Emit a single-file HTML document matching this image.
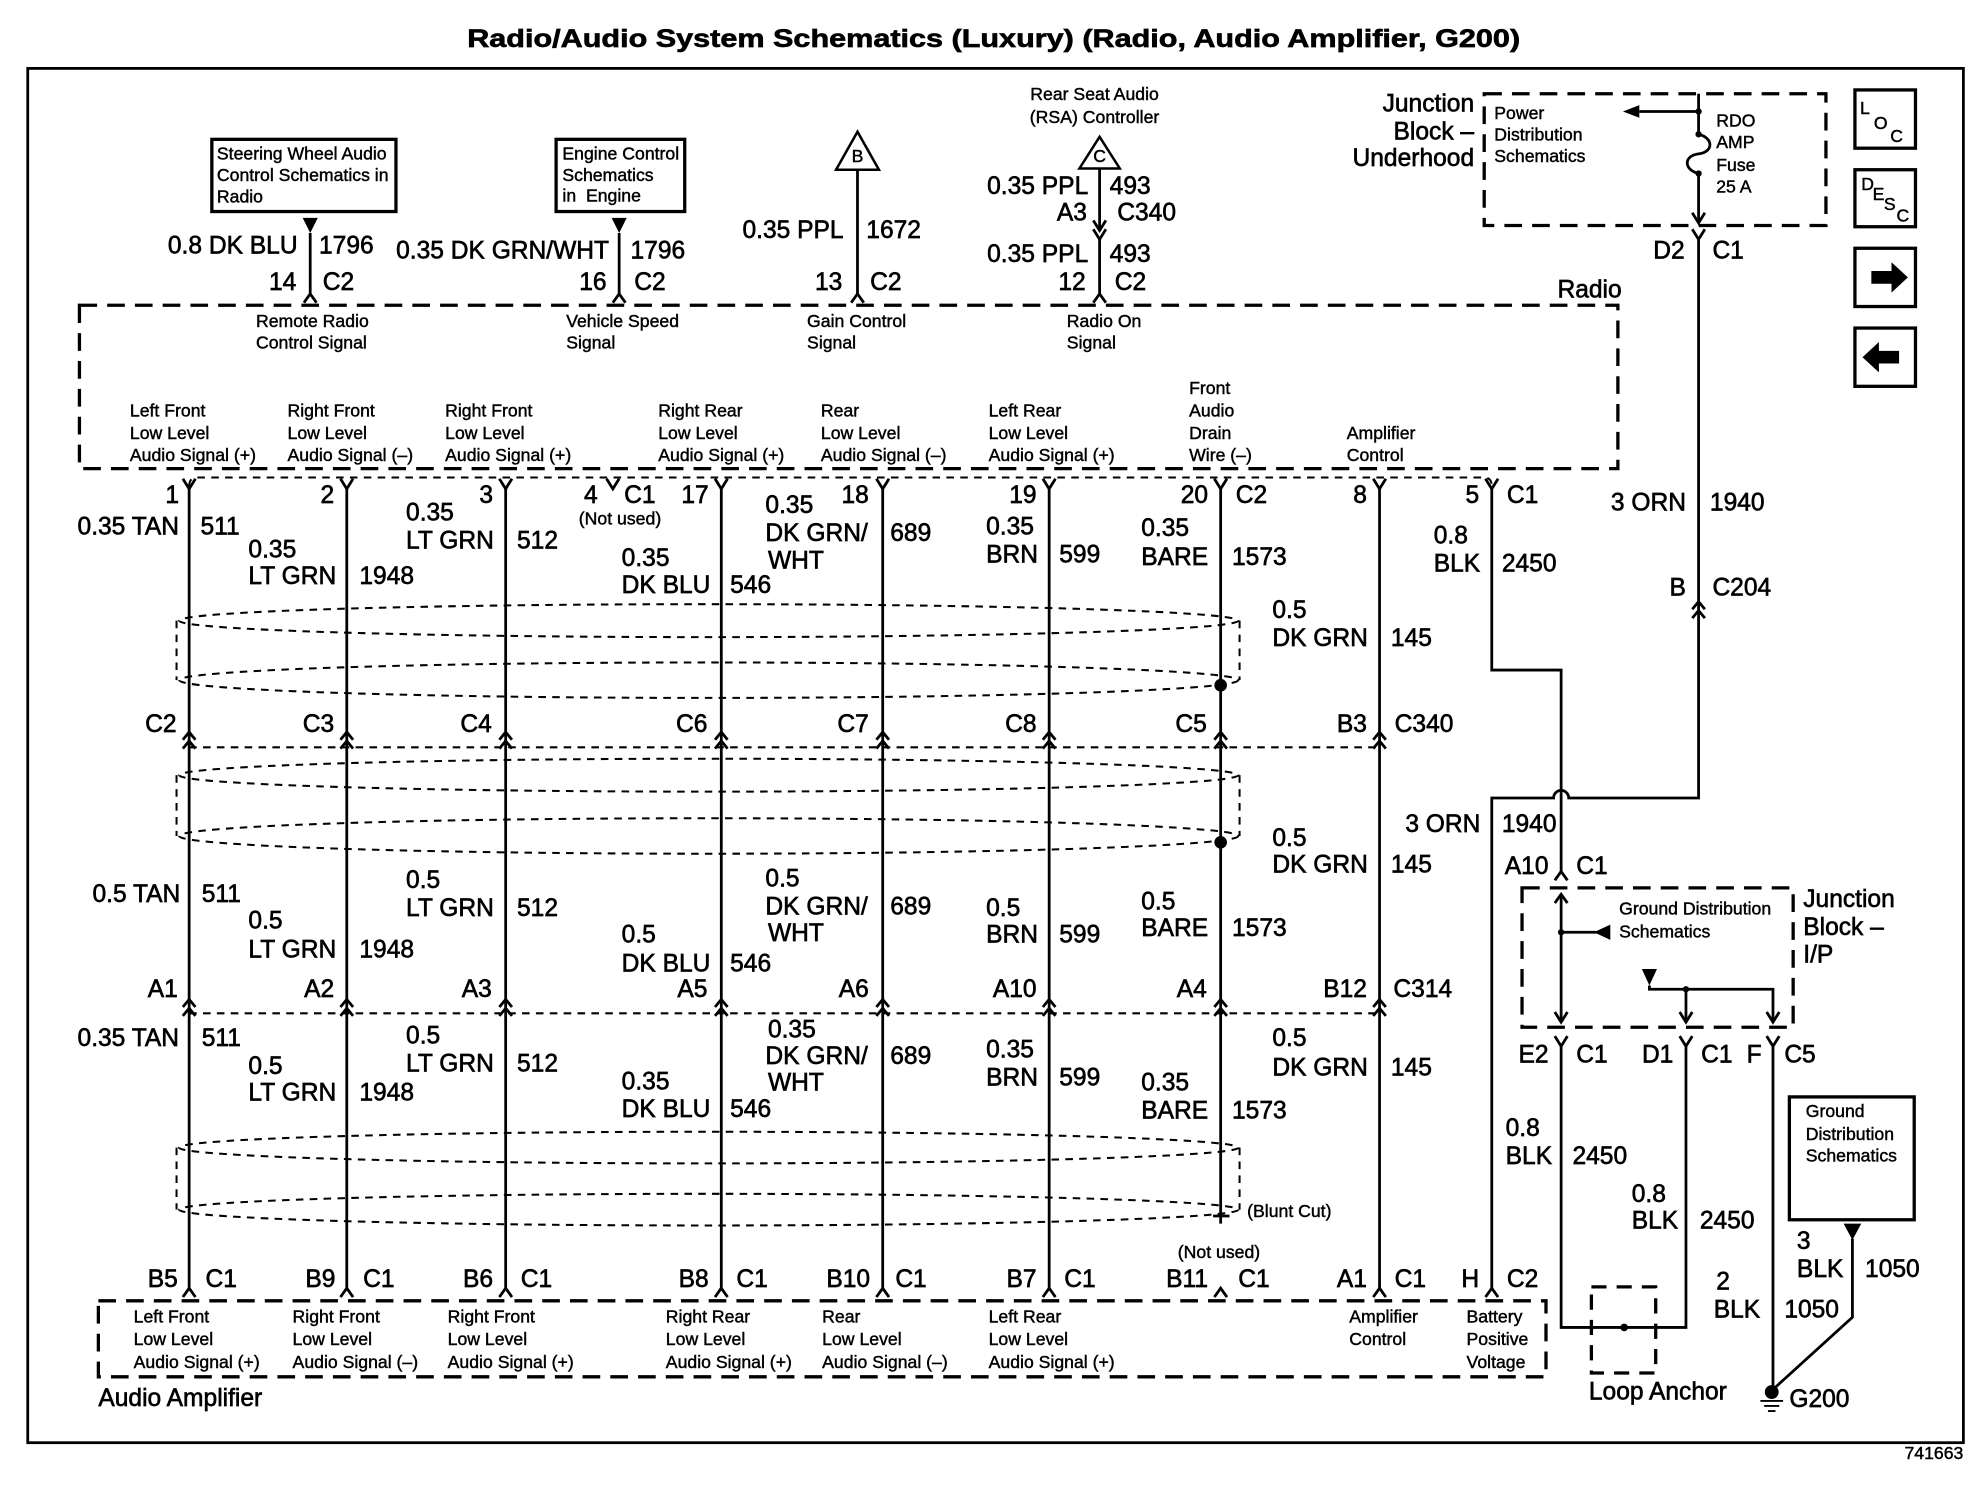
<!DOCTYPE html>
<html><head><meta charset="utf-8"><style>
html,body{margin:0;padding:0;background:#fff}
svg{display:block}
text{font-family:"Liberation Sans",Arial,sans-serif;fill:#000;stroke:#000;stroke-width:.5}
.L{font-size:19.5px}
.S{font-size:14px;stroke-width:.35}
.e{text-anchor:end}
.m{text-anchor:middle}
.w{fill:none;stroke:#000;stroke-width:2.2}
.bx{fill:none;stroke:#000;stroke-width:2.6}
.db{fill:none;stroke:#000;stroke-width:2.6;stroke-dasharray:14 8}
.dt{fill:none;stroke:#000;stroke-width:1.6;stroke-dasharray:6 5}
</style></head><body>
<svg width="1976" height="1504" viewBox="0 0 1567 1187.4" preserveAspectRatio="none" xmlns="http://www.w3.org/2000/svg" xmlns:xlink="http://www.w3.org/1999/xlink">
<defs>
<path id="Y" d="M-5,-8 L0,0 L5,-8"/>
<path id="V" d="M-5,7 L0,0 L5,7"/>
<path id="DC" d="M-5,6 L0,0 L5,6 M-5,13 L0,7 L5,13"/>
</defs>
<rect x="0" y="0" width="1567" height="1187.4" fill="#fff"/>
<!-- outer border -->
<rect x="22" y="54" width="1535" height="1085" fill="none" stroke="#000" stroke-width="2.2"/>
<!-- title -->
<text x="788" y="37" class="m" font-size="20" font-weight="bold" textLength="835" lengthAdjust="spacingAndGlyphs">Radio/Audio System Schematics (Luxury) (Radio, Audio Amplifier, G200)</text>

<!-- solid boxes -->
<rect x="168" y="110" width="146" height="57" class="bx"/>
<rect x="441" y="110" width="102" height="57" class="bx"/>
<rect x="1419" y="866" width="99" height="97" class="bx"/>
<rect x="1471" y="71" width="48" height="46" class="bx"/>
<rect x="1471" y="134" width="48" height="45" class="bx"/>
<rect x="1471" y="196" width="48" height="46" class="bx"/>
<rect x="1471" y="259" width="48" height="46" class="bx"/>
<polygon points="1484,214 1500,214 1500,207 1513,219 1500,231 1500,224 1484,224" fill="#000"/>
<polygon points="1506,277 1490,277 1490,270 1477,282 1490,294 1490,287 1506,287" fill="#000"/>

<!-- dashed boxes -->
<rect x="63" y="241" width="1220" height="129" class="db"/>
<rect x="1177" y="74" width="271" height="104" class="db"/>
<rect x="1207" y="701" width="215" height="110" class="db"/>
<rect x="1262" y="1016" width="51" height="68" class="db" style="stroke-dasharray:12 8"/>
<rect x="78" y="1027" width="1148" height="60" class="db"/>

<!-- triangles B, C -->
<polygon points="680,104 663,134 697,134" fill="#fff" stroke="#000" stroke-width="2"/>
<polygon points="872,108 856,133 888,133" fill="#fff" stroke="#000" stroke-width="2"/>

<!-- wires -->
<path class="w" d="
M246 184 V232
M491 184 V232
M680 134 V232
M872 133 V182 M872 189 V232
M1347 74 V106 M1347 137 V176 M1347 88 H1300
M1347 189 V630 H1244 A6 6 0 0 0 1232 630 H1183 V1017
M150 386 V1017
M275 386 V1017
M401 386 V1017
M572 386 V1017
M700 386 V1017
M832 386 V1017
M968 386 V966
M1094 386 V1017
M1183 386 V529 H1238 V688
M1238 706 V807 M1238 826 V1048 H1337 V826
M1337 807 V781 M1308 778 V781 H1406 V807 M1406 826 V1095
M1238 736 H1266
M1469 978 V1040 L1406 1097
M1347 106 C1359 109 1359 120 1347 121.5 C1335 123 1335 134 1347 137
M962 960 H975
"/>

<!-- connector symbols -->
<g class="w">
<use xlink:href="#V" x="246" y="232"/>
<use xlink:href="#V" x="491" y="232"/>
<use xlink:href="#V" x="680" y="232"/>
<use xlink:href="#V" x="872" y="232"/>
<use xlink:href="#Y" x="872" y="182"/>
<use xlink:href="#Y" x="872" y="189"/>
<use xlink:href="#Y" x="1347" y="176"/>
<use xlink:href="#Y" x="1347" y="189"/>
<use xlink:href="#DC" x="1347" y="475"/>
<use xlink:href="#V" x="1238" y="688"/>
<use xlink:href="#V" x="1238" y="706"/>
<use xlink:href="#Y" x="1238" y="807"/>
<use xlink:href="#Y" x="1337" y="807"/>
<use xlink:href="#Y" x="1406" y="807"/>
<use xlink:href="#Y" x="1238" y="826"/>
<use xlink:href="#Y" x="1337" y="826"/>
<use xlink:href="#Y" x="1406" y="826"/>

<use xlink:href="#Y" x="150" y="386"/>
<use xlink:href="#Y" x="275" y="386"/>
<use xlink:href="#Y" x="401" y="386"/>
<use xlink:href="#Y" x="486" y="386"/>
<use xlink:href="#Y" x="572" y="386"/>
<use xlink:href="#Y" x="700" y="386"/>
<use xlink:href="#Y" x="832" y="386"/>
<use xlink:href="#Y" x="968" y="386"/>
<use xlink:href="#Y" x="1094" y="386"/>
<use xlink:href="#Y" x="1183" y="386"/>

<use xlink:href="#DC" x="150" y="578"/>
<use xlink:href="#DC" x="275" y="578"/>
<use xlink:href="#DC" x="401" y="578"/>
<use xlink:href="#DC" x="572" y="578"/>
<use xlink:href="#DC" x="700" y="578"/>
<use xlink:href="#DC" x="832" y="578"/>
<use xlink:href="#DC" x="968" y="578"/>
<use xlink:href="#DC" x="1094" y="578"/>

<use xlink:href="#DC" x="150" y="789"/>
<use xlink:href="#DC" x="275" y="789"/>
<use xlink:href="#DC" x="401" y="789"/>
<use xlink:href="#DC" x="572" y="789"/>
<use xlink:href="#DC" x="700" y="789"/>
<use xlink:href="#DC" x="832" y="789"/>
<use xlink:href="#DC" x="968" y="789"/>
<use xlink:href="#DC" x="1094" y="789"/>

<use xlink:href="#V" x="150" y="1017"/>
<use xlink:href="#V" x="275" y="1017"/>
<use xlink:href="#V" x="401" y="1017"/>
<use xlink:href="#V" x="572" y="1017"/>
<use xlink:href="#V" x="700" y="1017"/>
<use xlink:href="#V" x="832" y="1017"/>
<use xlink:href="#V" x="968" y="1017"/>
<use xlink:href="#V" x="1094" y="1017"/>
<use xlink:href="#V" x="1183" y="1017"/>
</g>

<!-- connector housing dashed lines -->
<path class="dt" d="M150 384 Q150 377 156 377 H1177 Q1183 377 1183 384 M150 590 H1094 M150 800 H1094"/>

<!-- shields -->
<ellipse cx="562" cy="490" rx="420" ry="13" class="dt"/>
<ellipse cx="562" cy="537" rx="420" ry="14" class="dt"/>
<ellipse cx="562" cy="612" rx="420" ry="13" class="dt"/>
<ellipse cx="562" cy="660" rx="420" ry="14" class="dt"/>
<ellipse cx="562" cy="906" rx="420" ry="12.5" class="dt"/>
<ellipse cx="562" cy="955" rx="420" ry="12.5" class="dt"/>
<path class="dt" d="M140 490 V537 M983 490 V537 M140 612 V660 M983 612 V660 M140 906 V955 M983 906 V955"/>

<!-- dots & filled arrows -->
<g fill="#000">
<circle cx="968" cy="541" r="5"/>
<circle cx="968" cy="665" r="5"/>
<circle cx="1347" cy="88" r="2.5"/>
<circle cx="1347" cy="106" r="2.5"/>
<circle cx="1347" cy="137" r="2.5"/>
<circle cx="1238" cy="736" r="2.5"/>
<circle cx="1337" cy="781" r="2.5"/>
<circle cx="1288" cy="1048" r="3"/>
<circle cx="1405" cy="1099" r="5.5"/>
<polygon points="1287,88 1300,83 1300,93"/>
<polygon points="240,172 252,172 246,184"/>
<polygon points="485,172 497,172 491,184"/>
<polygon points="1264,736 1277,730 1277,742"/>
<polygon points="1302,765 1314,765 1308,778"/>
<polygon points="1462,966 1476,966 1469,979"/>
</g>
<path d="M1396 1106 H1414 M1399 1110 H1411 M1402 1114 H1408" stroke="#000" stroke-width="1.5"/>

<!-- ===== TEXT ===== -->
<!-- top boxes -->
<text class="S" x="172" y="126">Steering Wheel Audio</text>
<text class="S" x="172" y="143">Control Schematics in</text>
<text class="S" x="172" y="160">Radio</text>
<text class="S" x="446" y="126">Engine Control</text>
<text class="S" x="446" y="143">Schematics</text>
<text class="S" x="446" y="159" style="white-space:pre">in  Engine</text>

<text class="L e" x="236" y="200">0.8 DK BLU</text>
<text class="L" x="253" y="200">1796</text>
<text class="L e" x="235" y="229">14</text>
<text class="L" x="256" y="229">C2</text>

<text class="L e" x="483" y="204">0.35 DK GRN/WHT</text>
<text class="L" x="500" y="204">1796</text>
<text class="L e" x="481" y="229">16</text>
<text class="L" x="503" y="229">C2</text>

<text class="S m" x="680" y="128" font-size="12">B</text>
<text class="L e" x="669" y="188">0.35 PPL</text>
<text class="L" x="687" y="188">1672</text>
<text class="L e" x="668" y="229">13</text>
<text class="L" x="690" y="229">C2</text>

<text class="S m" x="868" y="79">Rear Seat Audio</text>
<text class="S m" x="868" y="97">(RSA) Controller</text>
<text class="S m" x="872" y="128" font-size="12">C</text>
<text class="L e" x="863" y="153">0.35 PPL</text>
<text class="L" x="880" y="153">493</text>
<text class="L e" x="862" y="174">A3</text>
<text class="L" x="886" y="174">C340</text>
<text class="L e" x="863" y="207">0.35 PPL</text>
<text class="L" x="880" y="207">493</text>
<text class="L e" x="861" y="229">12</text>
<text class="L" x="884" y="229">C2</text>

<!-- top right -->
<text class="L e" x="1169" y="88">Junction</text>
<text class="L e" x="1169" y="110">Block –</text>
<text class="L e" x="1169" y="131">Underhood</text>
<text class="S" x="1185" y="94">Power</text>
<text class="S" x="1185" y="111">Distribution</text>
<text class="S" x="1185" y="128">Schematics</text>
<text class="S" x="1361" y="100">RDO</text>
<text class="S" x="1361" y="117">AMP</text>
<text class="S" x="1361" y="135">Fuse</text>
<text class="S" x="1361" y="152">25 A</text>
<text class="L e" x="1336" y="204">D2</text>
<text class="L" x="1358" y="204">C1</text>

<text class="S" x="1475" y="90">L</text>
<text class="S" x="1486" y="102">O</text>
<text class="S" x="1499" y="112">C</text>
<text class="S" x="1476" y="150" font-size="13">D</text>
<text class="S" x="1485" y="158" font-size="13">E</text>
<text class="S" x="1494" y="166" font-size="13">S</text>
<text class="S" x="1504" y="175" font-size="13">C</text>

<!-- radio -->
<text class="L e" x="1286" y="235">Radio</text>
<text class="S" x="203" y="258">Remote Radio</text>
<text class="S" x="203" y="275">Control Signal</text>
<text class="S" x="449" y="258">Vehicle Speed</text>
<text class="S" x="449" y="275">Signal</text>
<text class="S" x="640" y="258">Gain Control</text>
<text class="S" x="640" y="275">Signal</text>
<text class="S" x="846" y="258">Radio On</text>
<text class="S" x="846" y="275">Signal</text>

<text class="S" x="103" y="329">Left Front</text>
<text class="S" x="103" y="346.5">Low Level</text>
<text class="S" x="103" y="364">Audio Signal (+)</text>
<text class="S" x="228" y="329">Right Front</text>
<text class="S" x="228" y="346.5">Low Level</text>
<text class="S" x="228" y="364">Audio Signal (–)</text>
<text class="S" x="353" y="329">Right Front</text>
<text class="S" x="353" y="346.5">Low Level</text>
<text class="S" x="353" y="364">Audio Signal (+)</text>
<text class="S" x="522" y="329">Right Rear</text>
<text class="S" x="522" y="346.5">Low Level</text>
<text class="S" x="522" y="364">Audio Signal (+)</text>
<text class="S" x="651" y="329">Rear</text>
<text class="S" x="651" y="346.5">Low Level</text>
<text class="S" x="651" y="364">Audio Signal (–)</text>
<text class="S" x="784" y="329">Left Rear</text>
<text class="S" x="784" y="346.5">Low Level</text>
<text class="S" x="784" y="364">Audio Signal (+)</text>
<text class="S" x="943" y="311">Front</text>
<text class="S" x="943" y="329">Audio</text>
<text class="S" x="943" y="346.5">Drain</text>
<text class="S" x="943" y="364">Wire (–)</text>
<text class="S" x="1068" y="346.5">Amplifier</text>
<text class="S" x="1068" y="364">Control</text>

<!-- pin row top -->
<text class="L e" x="142" y="397">1</text>
<text class="L e" x="265" y="397">2</text>
<text class="L e" x="391" y="397">3</text>
<text class="L e" x="474" y="397">4</text>
<text class="L" x="495" y="397">C1</text>
<text class="S" x="459" y="414">(Not used)</text>
<text class="L e" x="562" y="397">17</text>
<text class="L e" x="689" y="397">18</text>
<text class="L e" x="822" y="397">19</text>
<text class="L e" x="958" y="397">20</text>
<text class="L" x="980" y="397">C2</text>
<text class="L e" x="1084" y="397">8</text>
<text class="L e" x="1173" y="397">5</text>
<text class="L" x="1195" y="397">C1</text>

<!-- section 1 -->
<text class="L e" x="142" y="422">0.35 TAN</text>
<text class="L" x="159" y="422">511</text>
<text class="L" x="197" y="440">0.35</text>
<text class="L" x="197" y="461">LT GRN</text>
<text class="L" x="285" y="461">1948</text>
<text class="L" x="322" y="411">0.35</text>
<text class="L" x="322" y="433">LT GRN</text>
<text class="L" x="410" y="433">512</text>
<text class="L" x="493" y="447">0.35</text>
<text class="L" x="493" y="468">DK BLU</text>
<text class="L" x="579" y="468">546</text>
<text class="L" x="607" y="405">0.35</text>
<text class="L" x="607" y="427">DK GRN/</text>
<text class="L" x="609" y="449">WHT</text>
<text class="L" x="706" y="427">689</text>
<text class="L" x="782" y="422">0.35</text>
<text class="L" x="782" y="444">BRN</text>
<text class="L" x="840" y="444">599</text>
<text class="L" x="905" y="423">0.35</text>
<text class="L" x="905" y="446">BARE</text>
<text class="L" x="977" y="446">1573</text>
<text class="L" x="1009" y="488">0.5</text>
<text class="L" x="1009" y="510">DK GRN</text>
<text class="L" x="1103" y="510">145</text>
<text class="L" x="1137" y="429">0.8</text>
<text class="L" x="1137" y="451">BLK</text>
<text class="L" x="1191" y="451">2450</text>
<text class="L e" x="1337" y="403">3 ORN</text>
<text class="L" x="1356" y="403">1940</text>
<text class="L e" x="1337" y="470">B</text>
<text class="L" x="1358" y="470">C204</text>

<!-- row C -->
<text class="L e" x="140" y="578">C2</text>
<text class="L e" x="265" y="578">C3</text>
<text class="L e" x="390" y="578">C4</text>
<text class="L e" x="561" y="578">C6</text>
<text class="L e" x="689" y="578">C7</text>
<text class="L e" x="822" y="578">C8</text>
<text class="L e" x="957" y="578">C5</text>
<text class="L e" x="1084" y="578">B3</text>
<text class="L" x="1106" y="578">C340</text>

<!-- section 2 -->
<text class="L e" x="143" y="712">0.5 TAN</text>
<text class="L" x="160" y="712">511</text>
<text class="L" x="197" y="733">0.5</text>
<text class="L" x="197" y="756">LT GRN</text>
<text class="L" x="285" y="756">1948</text>
<text class="L" x="322" y="701">0.5</text>
<text class="L" x="322" y="723">LT GRN</text>
<text class="L" x="410" y="723">512</text>
<text class="L" x="493" y="744">0.5</text>
<text class="L" x="493" y="767">DK BLU</text>
<text class="L" x="579" y="767">546</text>
<text class="L" x="607" y="700">0.5</text>
<text class="L" x="607" y="722">DK GRN/</text>
<text class="L" x="609" y="743">WHT</text>
<text class="L" x="706" y="722">689</text>
<text class="L" x="782" y="723">0.5</text>
<text class="L" x="782" y="744">BRN</text>
<text class="L" x="840" y="744">599</text>
<text class="L" x="905" y="718">0.5</text>
<text class="L" x="905" y="739">BARE</text>
<text class="L" x="977" y="739">1573</text>
<text class="L" x="1009" y="668">0.5</text>
<text class="L" x="1009" y="689">DK GRN</text>
<text class="L" x="1103" y="689">145</text>
<text class="L e" x="1174" y="657">3 ORN</text>
<text class="L" x="1191" y="657">1940</text>
<text class="L e" x="1228" y="690">A10</text>
<text class="L" x="1250" y="690">C1</text>

<!-- row A -->
<text class="L e" x="141" y="787">A1</text>
<text class="L e" x="265" y="787">A2</text>
<text class="L e" x="390" y="787">A3</text>
<text class="L e" x="561" y="787">A5</text>
<text class="L e" x="689" y="787">A6</text>
<text class="L e" x="822" y="787">A10</text>
<text class="L e" x="957" y="787">A4</text>
<text class="L e" x="1084" y="787">B12</text>
<text class="L" x="1105" y="787">C314</text>

<!-- section 3 -->
<text class="L e" x="142" y="826">0.35 TAN</text>
<text class="L" x="160" y="826">511</text>
<text class="L" x="197" y="848">0.5</text>
<text class="L" x="197" y="869">LT GRN</text>
<text class="L" x="285" y="869">1948</text>
<text class="L" x="322" y="824">0.5</text>
<text class="L" x="322" y="846">LT GRN</text>
<text class="L" x="410" y="846">512</text>
<text class="L" x="493" y="860">0.35</text>
<text class="L" x="493" y="882">DK BLU</text>
<text class="L" x="579" y="882">546</text>
<text class="L" x="609" y="819">0.35</text>
<text class="L" x="607" y="840">DK GRN/</text>
<text class="L" x="609" y="861">WHT</text>
<text class="L" x="706" y="840">689</text>
<text class="L" x="782" y="835">0.35</text>
<text class="L" x="782" y="857">BRN</text>
<text class="L" x="840" y="857">599</text>
<text class="L" x="905" y="861">0.35</text>
<text class="L" x="905" y="883">BARE</text>
<text class="L" x="977" y="883">1573</text>
<text class="L" x="1009" y="826">0.5</text>
<text class="L" x="1009" y="849">DK GRN</text>
<text class="L" x="1103" y="849">145</text>
<text class="S" x="989" y="961">(Blunt Cut)</text>
<text class="S" x="934" y="993">(Not used)</text>

<!-- bottom pins -->
<text class="L e" x="141" y="1016">B5</text>
<text class="L" x="163" y="1016">C1</text>
<text class="L e" x="266" y="1016">B9</text>
<text class="L" x="288" y="1016">C1</text>
<text class="L e" x="391" y="1016">B6</text>
<text class="L" x="413" y="1016">C1</text>
<text class="L e" x="562" y="1016">B8</text>
<text class="L" x="584" y="1016">C1</text>
<text class="L e" x="690" y="1016">B10</text>
<text class="L" x="710" y="1016">C1</text>
<text class="L e" x="822" y="1016">B7</text>
<text class="L" x="844" y="1016">C1</text>
<text class="L e" x="958" y="1016">B11</text>
<text class="L" x="982" y="1016">C1</text>
<text class="L e" x="1084" y="1016">A1</text>
<text class="L" x="1106" y="1016">C1</text>
<text class="L e" x="1173" y="1016">H</text>
<text class="L" x="1195" y="1016">C2</text>

<!-- amplifier -->
<text class="S" x="106" y="1044">Left Front</text>
<text class="S" x="106" y="1062">Low Level</text>
<text class="S" x="106" y="1080">Audio Signal (+)</text>
<text class="S" x="232" y="1044">Right Front</text>
<text class="S" x="232" y="1062">Low Level</text>
<text class="S" x="232" y="1080">Audio Signal (–)</text>
<text class="S" x="355" y="1044">Right Front</text>
<text class="S" x="355" y="1062">Low Level</text>
<text class="S" x="355" y="1080">Audio Signal (+)</text>
<text class="S" x="528" y="1044">Right Rear</text>
<text class="S" x="528" y="1062">Low Level</text>
<text class="S" x="528" y="1080">Audio Signal (+)</text>
<text class="S" x="652" y="1044">Rear</text>
<text class="S" x="652" y="1062">Low Level</text>
<text class="S" x="652" y="1080">Audio Signal (–)</text>
<text class="S" x="784" y="1044">Left Rear</text>
<text class="S" x="784" y="1062">Low Level</text>
<text class="S" x="784" y="1080">Audio Signal (+)</text>
<text class="S" x="1070" y="1044">Amplifier</text>
<text class="S" x="1070" y="1062">Control</text>
<text class="S" x="1163" y="1044">Battery</text>
<text class="S" x="1163" y="1062">Positive</text>
<text class="S" x="1163" y="1080">Voltage</text>
<text class="L" x="78" y="1110">Audio Amplifier</text>

<!-- right bottom -->
<text class="S" x="1284" y="722">Ground Distribution</text>
<text class="S" x="1284" y="740">Schematics</text>
<text class="L" x="1430" y="716">Junction</text>
<text class="L" x="1430" y="738">Block –</text>
<text class="L" x="1430" y="760">I/P</text>
<text class="L e" x="1228" y="839">E2</text>
<text class="L" x="1250" y="839">C1</text>
<text class="L e" x="1327" y="839">D1</text>
<text class="L" x="1349" y="839">C1</text>
<text class="L e" x="1397" y="839">F</text>
<text class="L" x="1415" y="839">C5</text>
<text class="L" x="1194" y="897">0.8</text>
<text class="L" x="1194" y="919">BLK</text>
<text class="L" x="1247" y="919">2450</text>
<text class="L" x="1294" y="949">0.8</text>
<text class="L" x="1294" y="970">BLK</text>
<text class="L" x="1348" y="970">2450</text>
<text class="S" x="1432" y="882">Ground</text>
<text class="S" x="1432" y="900">Distribution</text>
<text class="S" x="1432" y="917">Schematics</text>
<text class="L" x="1425" y="986">3</text>
<text class="L" x="1425" y="1008">BLK</text>
<text class="L" x="1479" y="1008">1050</text>
<text class="L" x="1361" y="1018">2</text>
<text class="L" x="1359" y="1040">BLK</text>
<text class="L" x="1415" y="1040">1050</text>
<text class="L" x="1260" y="1105">Loop Anchor</text>
<text class="L" x="1419" y="1111">G200</text>
<text class="S e" x="1557" y="1152" font-size="12">741663</text>
</svg>
</body></html>
